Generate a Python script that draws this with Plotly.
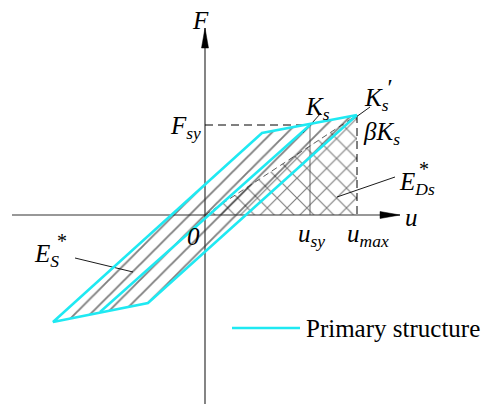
import plotly.graph_objects as go

# ---- hysteresis model values (u: displacement, F: force) ----
u_max, F_max = 152, 100          # peak point of the loop
u_sy, F_sy = 105, 90             # yield point of the primary structure
loop_u = [152, 57, -152, -57, 152]   # outer cyan loop
loop_F = [100, 82, -107, -88, 100]
inner_u = [-105, 105]                # elastic branch through the origin
inner_F = [-97, 90]

axis_u = [-193, 195]             # horizontal axis extent
axis_F = [-189, 187]             # vertical axis extent

CYAN = "#1FE9F2"
INK = "#000000"
FONT = "Liberation Serif"

fig = go.Figure()

# hatched area E_S* (inside loop)
fig.add_trace(go.Scatter(
    x=loop_u, y=loop_F, mode="lines", fill="toself",
    line=dict(width=0), fillcolor="rgba(0,0,0,0)",
    fillpattern=dict(shape="/", fgcolor=INK, bgcolor="rgba(0,0,0,0)",
                     size=11, solidity=0.17),
    hoverinfo="skip"))

# cross-hatched area E_Ds* (triangle under the secant)
fig.add_trace(go.Scatter(
    x=[0, u_max, u_max, 0], y=[0, F_max, 0, 0], mode="lines", fill="toself",
    line=dict(width=0), fillcolor="rgba(0,0,0,0)",
    fillpattern=dict(shape="x", fgcolor=INK, bgcolor="rgba(0,0,0,0)",
                     size=14, solidity=0.16),
    hoverinfo="skip"))

def seg(xs, ys, color=INK, width=1, dash="solid"):
    fig.add_trace(go.Scatter(x=xs, y=ys, mode="lines",
                             line=dict(color=color, width=width, dash=dash),
                             hoverinfo="skip"))

# axes
seg(axis_u, [0, 0], color="#333333", width=1.2)
seg([0, 0], axis_F, color="#333333", width=1.2)
# arrow heads
ah_len, ah_half = 20, 3.5
fig.add_trace(go.Scatter(
    x=[0, -ah_half, ah_half, 0],
    y=[axis_F[1], axis_F[1] - ah_len, axis_F[1] - ah_len, axis_F[1]],
    mode="lines", fill="toself", fillcolor="black", line=dict(width=0.5, color="black"),
    hoverinfo="skip"))
fig.add_trace(go.Scatter(
    x=[axis_u[1], axis_u[1] - ah_len, axis_u[1] - ah_len, axis_u[1]],
    y=[0, ah_half, -ah_half, 0],
    mode="lines", fill="toself", fillcolor="black", line=dict(width=0.5, color="black"),
    hoverinfo="skip"))

# reference lines
seg([0, u_sy], [F_sy, F_sy], width=1, dash="8px,5px")
seg([u_max, u_max], [F_max, 0], width=1, dash="8px,5px")
seg([u_sy, u_sy], [F_sy, 0], color="#444444", width=0.8)
seg([0, u_max], [0, F_max], color="#333333", width=0.8, dash="6px,4px")

# leader lines
seg([98, 116], [82, 102], width=0.9)
seg([140, 165], [90, 108], width=0.9)
seg([132, 190], [18, 38], width=0.9)
seg([-130, -72], [-43, -57], width=0.9)

# cyan primary structure loop
seg(loop_u, loop_F, color=CYAN, width=2.5)
seg(inner_u, inner_F, color=CYAN, width=2.5)

# legend sample
seg([27, 95], [-113, -113], color=CYAN, width=2.5)

def label(x, y, text, size=25, xanchor="center", yanchor="middle"):
    fig.add_annotation(x=x, y=y, text=text, showarrow=False,
                       xanchor=xanchor, yanchor=yanchor,
                       font=dict(family=FONT, size=size, color="black"))

label(-5, 195, "<i>F</i>")
label(-2, 88, "<i>F<sub>sy</sub></i>", xanchor="right")
label(112, 107, "<i>K<sub>s</sub></i>")
label(157, 116, "<i>K<sub>s</sub></i>", xanchor="left")
label(184, 128, "<i>′</i>", size=24, xanchor="center")
label(156, 82, "<i>βK<sub>s</sub></i>", xanchor="left")
label(192, 32, "<i>E<sub>Ds</sub></i>", xanchor="left")
label(219, 46, "*", size=20, xanchor="center")
label(-173, -40, "<i>E<sub>S</sub></i>", xanchor="left")
label(-143, -26, "*", size=20, xanchor="center")
label(106, -20, "<i>u<sub>sy</sub></i>")
label(140, -20, "<i>u<sub>max</sub></i>", xanchor="left")
label(-12, -21, "<i>0</i>")
label(206, -2, "<i>u</i>")
label(99, -113, "Primary structure", size=25, xanchor="left")

fig.update_layout(
    width=488, height=404,
    margin=dict(l=0, r=0, t=0, b=0),
    paper_bgcolor="white", plot_bgcolor="white",
    showlegend=False,
    xaxis=dict(range=[-205, 283], visible=False, fixedrange=True),
    yaxis=dict(range=[-189, 215], visible=False, fixedrange=True),
)

fig.write_html("out.html")
